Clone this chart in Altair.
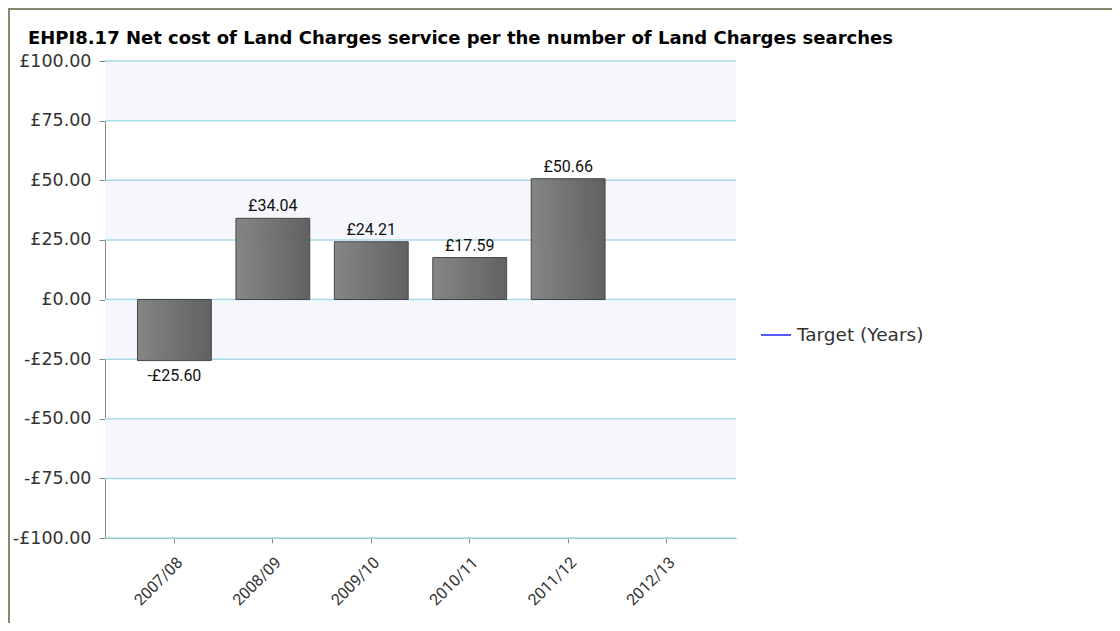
import altair as alt
import pandas as pd

years = ["2007/08", "2008/09", "2009/10", "2010/11", "2011/12", "2012/13"]
values = [-25.60, 34.04, 24.21, 17.59, 50.66, None]
target = [None, None, None, None, None, None]
series_name = "Target (Years)"
band_lo = [75, 25, -25, -75]
band_hi = [100, 50, 0, -50]
y_ticks = [-100, -75, -50, -25, 0, 25, 50, 75, 100]
title_text = "EHPI8.17 Net cost of Land Charges service per the number of Land Charges searches"

W, H = 631, 477
PAD = {"left": 97, "top": 53, "right": 376, "bottom": 85}
FONT = "DejaVu Sans"
NARROW = "Roboto"

df = pd.DataFrame({"year": years, "value": values})
df_t = pd.DataFrame({"year": years, "target": target, "series": [series_name] * len(years)})
df_b = pd.DataFrame({"lo": band_lo, "hi": band_hi})
df_g = pd.DataFrame({"t": y_ticks})
df_frame = pd.DataFrame({"k": [0]})

yscale = alt.Scale(domain=[-100, 100], nice=False, zero=False)
xscale = alt.Scale(domain=years, paddingInner=0.25, paddingOuter=0.33)

yaxis = alt.Axis(
    values=y_ticks,
    labelExpr="(datum.value < 0 ? '-£' : '£') + format(abs(datum.value), '.2f')",
    grid=False, tickSize=6, domainColor="#8a8a8a", tickColor="#8a8a8a",
    labelColor="#333333", labelFontSize=17.5, labelFont=FONT, title=None, labelPadding=8,
)
xaxis = alt.Axis(
    labelAngle=-45, title=None, domainColor="#8a8a8a", tickColor="#8a8a8a",
    tickSize=5, labelColor="#333333", labelFontSize=16, labelFont=NARROW, grid=False,
    labelPadding=11,
)

bands = alt.Chart(df_b).mark_rect(color="#f6f7fd").encode(
    x=alt.value(0), x2=alt.value(W),
    y=alt.Y("hi:Q", scale=yscale, axis=yaxis), y2="lo:Q",
)

grid = alt.Chart(df_g).mark_rule(color="#a6dbe6", strokeWidth=1.5).encode(
    y=alt.Y("t:Q", scale=yscale, axis=yaxis),
)

gradient = alt.Gradient(
    gradient="linear",
    stops=[alt.GradientStop(color="#7c7c7c", offset=0), alt.GradientStop(color="#555555", offset=1)],
    x1=0, x2=1, y1=0, y2=0,
)

bars = alt.Chart(df).mark_bar(color=gradient, stroke="#3a3a3a", strokeWidth=1, opacity=0.92).encode(
    x=alt.X("year:N", scale=xscale, axis=xaxis, sort=years),
    y=alt.Y("value:Q", scale=yscale, axis=yaxis),
)

label_calc = "(datum.value < 0 ? '-£' : '£') + format(abs(datum.value), '.2f')"
pos_text = alt.Chart(df).transform_filter("isValid(datum.value) && datum.value >= 0").transform_calculate(
    label=label_calc
).mark_text(baseline="bottom", dy=-4, fontSize=16, font=NARROW, color="#111111").encode(
    x=alt.X("year:N", scale=xscale, axis=xaxis, sort=years),
    y=alt.Y("value:Q", scale=yscale, axis=yaxis),
    text="label:N",
)
neg_text = alt.Chart(df).transform_filter("isValid(datum.value) && datum.value < 0").transform_calculate(
    label=label_calc
).mark_text(baseline="top", dy=7, fontSize=16, font=NARROW, color="#111111").encode(
    x=alt.X("year:N", scale=xscale, axis=xaxis, sort=years),
    y=alt.Y("value:Q", scale=yscale, axis=yaxis),
    text="label:N",
)

target_line = alt.Chart(df_t).mark_line(strokeWidth=1.5).encode(
    x=alt.X("year:N", scale=xscale, axis=xaxis, sort=years),
    y=alt.Y("target:Q", scale=yscale, axis=yaxis),
    color=alt.Color(
        "series:N",
        scale=alt.Scale(domain=[series_name], range=["#2020ff"]),
        legend=alt.Legend(
            orient="none", legendX=655, legendY=258, title=None,
            symbolType="stroke", symbolSize=900, symbolStrokeWidth=1.5,
            labelFontSize=18.5, labelFont=FONT, labelColor="#333333", labelOffset=5,
        ),
    ),
)

frame_left = alt.Chart(df_frame).mark_rule(color="#86866e", strokeWidth=2).encode(
    x=alt.value(-96), y=alt.value(-PAD["top"]), y2=alt.value(H + PAD["bottom"]),
)
frame_top = alt.Chart(df_frame).mark_rule(color="#86866e", strokeWidth=2).encode(
    y=alt.value(-52), x=alt.value(-PAD["left"]), x2=alt.value(W + PAD["right"]),
)

chart = alt.layer(
    bands, grid, bars, pos_text, neg_text, target_line, frame_left, frame_top
).properties(
    width=W, height=H,
    autosize=alt.AutoSizeParams(type="none"),
    padding=PAD,
    title=alt.TitleParams(
        title_text, anchor="start", frame="group", dx=-77, offset=-41,
        fontSize=18, font=FONT, fontWeight="bold", color="black",
    ),
).configure(background="white").configure_view(stroke=None)

chart.save("out.html", embed_options={"renderer": "svg", "actions": False})
